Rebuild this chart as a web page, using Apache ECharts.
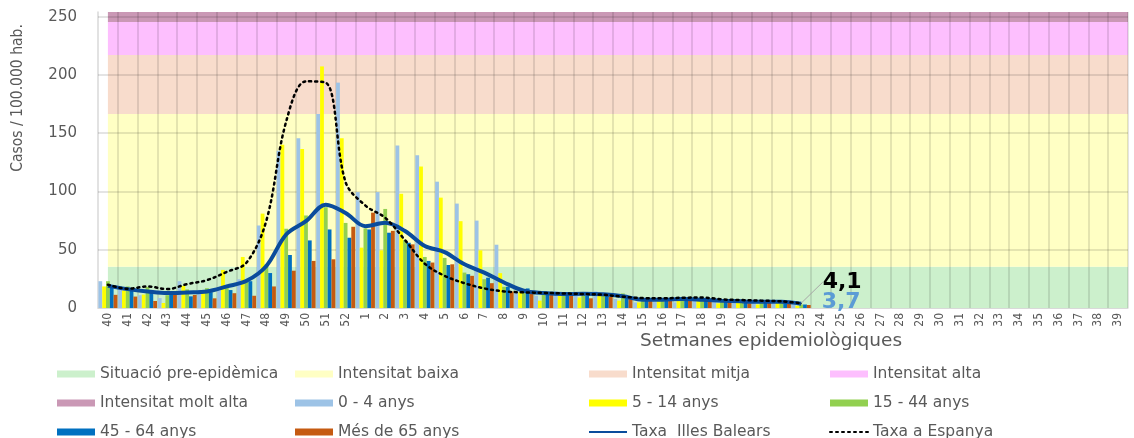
<!DOCTYPE html>
<html>
<head>
<meta charset="utf-8">
<script src="https://cdn.jsdelivr.net/npm/echarts@6/dist/echarts.min.js"></script>
<style>
  html, body { margin: 0; padding: 0; background: #fff; }
  #chart { width: 1134px; height: 438px; }
</style>
</head>
<body>
<div id="chart"></div>
<script>
// setmanes epidemiològiques (40..52, 1..39)
const weeks = ['40','41','42','43','44','45','46','47','48','49','50','51','52',
  '1','2','3','4','5','6','7','8','9','10','11','12','13','14','15','16','17','18','19',
  '20','21','22','23','24','25','26','27','28','29','30','31','32','33','34','35','36','37','38','39']

// casos / 100.000 hab. per grup d'edat (fins a la setmana 23)
const age0_4 = [23, 16, 11, 8.5, 23, 15.5, 15, 24.7, 70.8, 135, 145.6, 166.4, 193.4, 99.5, 99.5, 139.4, 131, 108.4,
  89.6, 75, 54.3, 13.4, 10.5, 14.2, 10.5, 14.2, 7.7, 4.8, 5.4, 4.8, 6.3, 5, 5, 4, 4, 3]
const age5_14 = [18.5, 15, 11.5, 4.3, 19, 15, 32.7, 43.8, 81, 140, 136.5, 207.3, 145.6, 51.8, 49.5, 98, 121.4, 94.7,
  74.5, 49.5, 29.9, 13.4, 6.3, 10.5, 9, 10.5, 6.3, 4.8, 6.3, 6.3, 7, 4, 5, 3, 5, 2]
const age15_44 = [23, 18.5, 18, 11, 16, 17, 18, 22.5, 37.5, 68, 79.4, 86.5, 73, 68.3, 85, 58.3, 43.8, 43,
  30.4, 24.7, 18.2, 14.5, 13.4, 12, 12, 12.5, 12.5, 6.3, 6.3, 6.3, 7.7, 6, 6, 5, 6, 3]
const age45_64 = [18, 16, 15.5, 13.6, 10, 13.6, 15.4, 23, 30, 45.5, 58, 67.4, 60.3, 67.4, 64.6, 56, 40.4, 36.9,
  29, 26, 18.2, 16.8, 13.4, 12, 10.5, 10.5, 8.5, 7.7, 7.7, 7.7, 7.7, 6, 6, 6, 6, 3]
const age65 = [11.3, 9.8, 6, 11.2, 11.2, 8.3, 12.7, 10.5, 18.5, 32, 40.4, 41.8, 69.7, 81.8, 66.2, 54.6, 39, 37.5,
  27.6, 21.3, 14.2, 13.4, 11.3, 11, 8.3, 9.7, 7.7, 6.3, 7, 6.3, 6.3, 5, 4, 5, 4, 2.6]

// taxes
const rateBalears = [19, 16.2, 14.2, 12.8, 13.4, 14.2, 18.5, 23.3, 36.1, 63.1, 74.5, 88.7, 81.6, 70.2, 73.1, 66, 53.2, 48,
  37.5, 30.4, 21.9, 14.8, 12.8, 12, 12.2, 11.7, 10, 7.1, 7.1, 7.7, 7.1, 6.3, 5.7, 5.4, 5.4, 3.7]
const rateSpain = [20, 16.5, 18.5, 16.2, 20.5, 23.9, 31, 39, 75, 160, 194.5, 193.4, 108, 87.9, 77.4, 58.3, 38, 27.6,
  21.3, 16.8, 14.2, 13.4, 13, 12.5, 12, 11.4, 9.7, 8.5, 8.3, 8.8, 9, 7.4, 6.8, 6.3, 5.7, 4.1]

// llindars d'intensitat
const bandNames = ['Situació pre-epidèmica', 'Intensitat baixa', 'Intensitat mitja', 'Intensitat alta', 'Intensitat molt alta']
const bandLimits = [0, 35.5, 166.4, 217, 245.4, 254]
const bandColors = ['#CCF0CC', '#FFFFC4', '#F8DCCC', '#FDBFFE', '#CA98B5']

const yTicks = [0, 50, 100, 150, 200, 250]

const chart = echarts.init(document.getElementById('chart'))

const wide = "'DejaVu Sans', Verdana, sans-serif"
const narrow = "'Liberation Sans Narrow', 'DejaVu Sans Condensed', 'Roboto', sans-serif"
const comma = v => String(v).replace('.', ',')

// bands on the bottom layer
const bandSeries = bandNames.map((name, i) => ({
  name: name,
  type: 'line',
  xAxisIndex: 1,
  data: [],
  color: bandColors[i],
  zlevel: 0,
  z: 0,
  markArea: {
    silent: true,
    zlevel: 0,
    z: 0,
    itemStyle: { color: bandColors[i] },
    data: [[{ xAxis: 0.5, yAxis: bandLimits[i] }, { xAxis: weeks.length, yAxis: bandLimits[i + 1] }]]
  }
}))

// grid on its own layer over the bands: week boundaries and the y ticks
const gridSeries = {
  name: 'grid',
  type: 'line',
  xAxisIndex: 1,
  data: [],
  zlevel: 1,
  markLine: {
    silent: true,
    zlevel: 1,
    symbol: 'none',
    label: { show: false },
    lineStyle: { color: 'rgba(0,0,0,0.14)', type: 'solid', width: 1.5 },
    data: weeks.map((w, i) => ({ xAxis: i + 1 })).concat(yTicks.slice(1).map(v => ({ yAxis: v })))
  }
}

const barDefs = [
  ['0 - 4 anys', age0_4, '#9DC3E6'],
  ['5 - 14 anys', age5_14, '#FFFF00'],
  ['15 - 44 anys', age15_44, '#92D050'],
  ['45 - 64 anys', age45_64, '#0070C0'],
  ['Més de 65 anys', age65, '#C55A11']
]
const barSeries = barDefs.map(d => ({
  name: d[0],
  type: 'bar',
  data: d[1],
  color: d[2],
  barGap: '0%',
  barCategoryGap: '4%',
  zlevel: 2,
  z: 4
}))

// last point carries the value label
const lastPoint = (arr, color, offset) => arr.slice(0, -1).concat([{
  value: arr[arr.length - 1],
  symbol: 'circle',
  symbolSize: 1,
  label: {
    show: true, position: 'right', formatter: comma(arr[arr.length - 1]), offset: offset,
    fontFamily: wide, fontSize: 22, fontWeight: 'bold', color: color
  }
}])

const legendText = { fontFamily: wide, fontSize: 15.5, color: '#595959' }
const mkLegend = (left, names) => ({
  orient: 'vertical', left: left, top: 366, height: 120, padding: 0, itemWidth: 38, itemHeight: 7, itemGap: 13,
  textStyle: legendText, selectedMode: false,
  data: names.map(n => (n.startsWith('Taxa') ? { name: n, itemStyle: { opacity: 0 } } : { name: n, icon: 'rect' }))
})

const option = {
  animation: false,
  grid: { left: 98, right: 6, top: 12, bottom: 130 },
  legend: [
    mkLegend(57, ['Situació pre-epidèmica', 'Intensitat molt alta', '45 - 64 anys']),
    mkLegend(295, ['Intensitat baixa', '0 - 4 anys', 'Més de 65 anys']),
    mkLegend(588, ['Intensitat mitja', '5 - 14 anys', 'Taxa  Illes Balears']),
    mkLegend(829, ['Intensitat alta', '15 - 44 anys', 'Taxa a Espanya'])
  ],
  xAxis: [{
    type: 'category',
    data: weeks,
    boundaryGap: true,
    axisLine: { lineStyle: { color: '#D9D9D9' } },
    axisTick: { show: false },
    axisLabel: { rotate: 90, interval: 0, fontFamily: narrow, fontSize: 12, color: '#595959', margin: 5 },
    splitLine: { show: false }
  }, {
    type: 'value', min: 0, max: weeks.length, show: false, splitLine: { show: false }
  }],
  yAxis: {
    type: 'value',
    min: 0, max: bandLimits[bandLimits.length - 1], interval: 50,
    axisLine: { show: true, lineStyle: { color: '#D9D9D9', width: 1.5 } },
    axisTick: { show: false },
    axisLabel: { showMaxLabel: false, fontFamily: wide, fontSize: 15, color: '#595959', margin: 21,
      formatter: v => (yTicks.includes(v) ? String(v) : '') },
    splitLine: { show: false }
  },
  graphic: [{
    type: 'text', x: 18, y: 98, rotation: Math.PI / 2,
    style: { text: 'Casos / 100.000 hab.', fill: '#595959', font: '15.5px ' + narrow, textAlign: 'center', textVerticalAlign: 'middle' }
  }, {
    type: 'text', left: 640, top: 332,
    style: { text: 'Setmanes epidemiològiques', fill: '#595959', font: '18.5px ' + wide }
  }],
  series: bandSeries.concat([gridSeries], barSeries, [{
    name: 'Taxa  Illes Balears',
    type: 'line',
    data: lastPoint(rateBalears, '#5B9BD5', [15, -1]),
    smooth: 0.35,
    symbol: 'none',
    color: '#0A4C9C',
    lineStyle: { width: 4, color: '#0A4C9C' },
    zlevel: 2,
    z: 5
  }, {
    name: 'Taxa a Espanya',
    type: 'line',
    data: lastPoint(rateSpain, '#000', [0, 0]),
    smooth: 0.35,
    symbol: 'none',
    color: '#000',
    lineStyle: { width: 2.5, type: [2, 4], cap: 'round', color: '#000' },
    labelLayout: { dx: 16, dy: -21 },
    labelLine: { show: true, lineStyle: { color: '#A6A6A6', width: 1 } },
    zlevel: 2,
    z: 6
  }])
}

chart.setOption(option)
</script>
</body>
</html>
